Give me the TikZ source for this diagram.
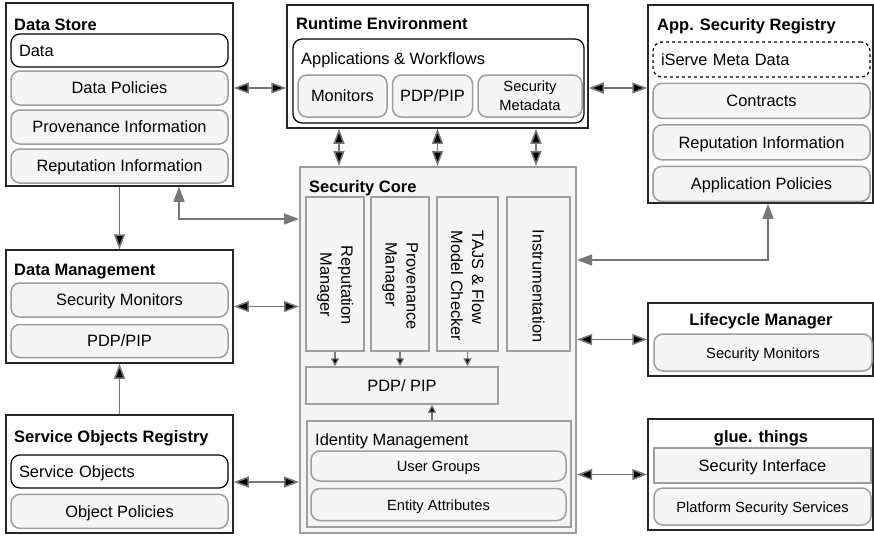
\documentclass[tikz,border=0pt]{standalone}
\usepackage{fontspec}
\setmainfont{Liberation Sans}
\usetikzlibrary{arrows.meta,positioning,calc}
\definecolor{boxfill}{HTML}{F5F5F5}
\definecolor{boxline}{HTML}{9E9E9E}
\definecolor{arrowgray}{HTML}{777777}
\tikzset{arr/.tip={Triangle[length=15pt,width=11pt]},
  sarr/.tip={Triangle[length=8pt,width=8pt]}}

\begin{document}
\begin{tikzpicture}[x=1pt,y=-1pt,node distance=5pt,
  font=\fontsize{16.4}{21}\selectfont,
  every node/.style={inner sep=0pt},
  ln/.style={text height=13pt,text depth=1.5pt},
  group/.style={draw=black!85,line width=1.5pt,fill=white},
  title/.style={font=\fontsize{16.5}{19}\selectfont\bfseries,anchor=base west},
  cellbase/.style={draw=boxline,fill=boxfill,line width=1.5pt,rounded corners=9pt},
  cell/.style={cellbase,ln},
  cellb/.style={draw=black,fill=white,line width=1.2pt,rounded corners=9pt,ln,
    text width=201pt,inner xsep=8pt,align=left},
  part/.style={draw=boxline,fill=boxfill,line width=1.5pt},
  small/.style={font=\fontsize{14.7}{19}\selectfont},
  link/.style={draw=arrowgray,line width=1.5pt},
  minilink/.style={draw=arrowgray,line width=1.2pt}]

\fill[white] (0,0) rectangle (874,536);
\useasboundingbox (0,0) rectangle (874,536);

% data store
\node[group,minimum width=227pt,minimum height=183pt] (ds) at (119.5,94.5) {};
\node[title] at (14,30) {Data Store};
\node[cellb,minimum height=33pt] (ds_data) at (119.5,50.5) {Data};
\node[cell,minimum width=217pt,minimum height=34pt] (ds_pol) at (119.5,88) {Data Policies};
\node[cell,minimum width=217pt,minimum height=34pt,below=3.5pt of ds_pol] (ds_prov) {Provenance Information\hspace{14pt}};
\node[cell,minimum width=217pt,minimum height=34pt,below=3.5pt of ds_prov] (ds_rep) {Reputation Information\hspace{14pt}};

% runtime environment
\node[group,minimum width=301pt,minimum height=123pt] (rt) at (437.5,66.5) {};
\node[title] at (296,29) {Runtime Environment};
\node[cellbase,draw=black,fill=white,line width=1.2pt,minimum width=291pt,minimum height=84pt] (rt_app) at (438.5,81) {};
\node[anchor=west] at (301,60) {Applications \& Workflows};
\node[cell,minimum width=89pt,minimum height=42pt] (rt_mon) at (342.5,96) {Monitors};
\node[cell,minimum width=80pt,minimum height=42pt,right=4pt of rt_mon] (rt_pdp) {PDP/PIP};
\node[cellbase,small,align=center,minimum width=104pt,minimum height=42pt,right=4pt of rt_pdp] (rt_meta) {Security\\Metadata};

% app. security registry
\node[group,minimum width=225pt,minimum height=198pt] (asr) at (760.5,104) {};
\node[title] at (657,30) {App. Security Registry};
\node[cellb,dashed,minimum height=35pt] (asr_meta) at (761.5,59.5) {iServe Meta Data};
\node[cell,minimum width=217pt,minimum height=35pt,below=of asr_meta] (asr_con) {Contracts\hspace{8pt}};
\node[cell,minimum width=217pt,minimum height=35pt,below=of asr_con] (asr_rep) {Reputation Information\hspace{12pt}};
\node[cell,minimum width=217pt,minimum height=35pt,below=of asr_rep] (asr_pol) {Application Policies\hspace{6pt}};

% security core
\node[part,line width=2pt,minimum width=276pt,minimum height=366pt] (sc) at (438,350) {};
\node[title] at (309,192) {Security Core};
\node[part,minimum width=58pt,minimum height=154pt] (sc_rep) at (335,274) {};
\node[part,minimum width=58pt,minimum height=154pt] (sc_prov) at (400,274) {};
\node[part,minimum width=61pt,minimum height=154pt] (sc_tajs) at (467.5,274) {};
\node[part,minimum width=63pt,minimum height=154pt] (sc_inst) at (538.5,274) {};
\node[rotate=-90,align=center] at ($(sc_rep)+(0,11)$) {Reputation\\Manager};
\node[rotate=-90,align=left] at ($(sc_prov)+(0,12)$) {Provenance\\Manager};
\node[rotate=-90,align=left] at ($(sc_tajs)+(0,12)$) {TAJS \& Flow\\Model Checker};
\node[rotate=-90] at ($(sc_inst)+(0,12)$) {Instrumentation};
\node[part,ln,minimum width=192pt,minimum height=37pt] (sc_pdp) at (402,385.5) {PDP/ PIP};
\node[part,minimum width=264pt,minimum height=106pt] (sc_idm) at (439,474) {};
\node[anchor=west] at (315,441) {Identity Management};
\node[cell,small,minimum width=255pt,minimum height=30pt] (sc_ug) at (438.5,466) {User Groups};
\node[cell,small,minimum width=255pt,minimum height=32pt,below=6pt of sc_ug] (sc_ea) {Entity Attributes};

% data management
\node[group,minimum width=227pt,minimum height=113pt] (dm) at (119.5,306.5) {};
\node[title] at (14,275) {Data Management};
\node[cell,minimum width=217pt,minimum height=34pt] (dm_mon) at (119.5,300) {Security Monitors};
\node[cell,minimum width=217pt,minimum height=33pt,below=6pt of dm_mon] (dm_pdp) {PDP/PIP};

% service objects registry
\node[group,minimum width=227pt,minimum height=118pt] (sor) at (119.5,474) {};
\node[title] at (14,442) {Service Objects Registry};
\node[cellb,minimum height=33pt] (sor_so) at (119.5,471.5) {Service Objects};
\node[cell,minimum width=217pt,minimum height=34pt,below=of sor_so] (sor_pol) {Object Policies};

% lifecycle manager
\node[group,minimum width=225pt,minimum height=73pt] (lm) at (760.5,339.5) {};
\node[title,anchor=base] at (761,325) {Lifecycle Manager};
\node[cell,small,minimum width=218pt,minimum height=37pt] (lm_mon) at (763,352.5) {Security Monitors\hspace{10pt}};

% glue.things
\node[group,minimum width=225pt,minimum height=111pt] (gt) at (760.5,474.5) {};
\node[title,anchor=base] at (761,442) {glue. things};
\node[part,ln,minimum width=217pt,minimum height=35pt] (gt_si) at (762.5,465.5) {Security Interface\hspace{4pt}};
\node[cell,small,minimum width=217pt,minimum height=37pt] (gt_pss) at (762.5,506.5) {Platform Security Services\hspace{4pt}};

\path[link]
  (ds.east |- ds_pol) edge[arr-arr] (rt.west |- ds_pol)
  (rt.east |- ds_pol) edge[arr-arr] (asr.west |- ds_pol)
  ($(rt_mon |- rt.south)+(-3.5,0)$) edge[arr-arr] ($(rt_mon |- sc.north)+(-3.5,0)$)
  ($(rt_pdp |- rt.south)+(5,0)$) edge[arr-arr] ($(rt_pdp |- sc.north)+(5,0)$)
  ($(rt_meta |- rt.south)+(6,0)$) edge[arr-arr] ($(rt_meta |- sc.north)+(6,0)$)
  (ds.south) edge[-arr] (dm.north)
  (sor.north) edge[-arr] (dm.south)
  (dm.east) edge[arr-arr] (dm.east -| sc.west)
  ($(sor.east)+(0,8)$) edge[arr-arr] ($(sor.east -| sc.west)+(0,8)$)
  (sc.east |- lm) edge[arr-arr] (lm.west)
  (sc.east |- gt) edge[arr-arr] (gt.west);
\draw[link,arr-arr] ($(ds.south)+(59.5,0)$) |- ($(sc.north west)+(0,53)$);
\draw[link,arr-arr] ($(asr.south)+(7.5,0)$) |- ($(sc.east)+(0,-90)$);

\path[minilink]
  (sc_rep.south) edge[-sarr] (sc_rep.south |- sc_pdp.north)
  (sc_prov.south) edge[-sarr] (sc_prov.south |- sc_pdp.north)
  (sc_tajs.south) edge[-sarr] (sc_tajs.south |- sc_pdp.north)
  ($(sc_idm.north)+(-7,0)$) edge[-sarr] ($(sc_pdp.south -| sc_idm.north)+(-7,0)$);
\end{tikzpicture}
\end{document}
